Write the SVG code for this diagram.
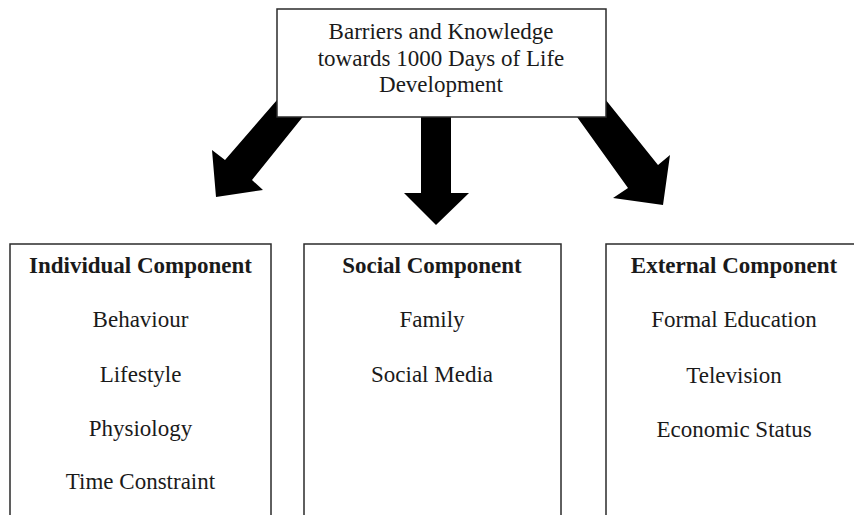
<svg xmlns="http://www.w3.org/2000/svg" width="854" height="515" viewBox="0 0 854 515">
  <style>
    .box { fill: #ffffff; stroke: #2b2b2b; stroke-width: 1.5; }
    .arrow { fill: #000000; stroke: none; }
    text { font-family: "Liberation Serif", "Times New Roman", serif; font-size: 23px; fill: #1a1a1a; text-anchor: middle; }
    .head { font-weight: bold; }
  </style>

  <!-- block arrows, drawn first so the top box hides their tails -->
  <g id="connectors">
    <polygon class="arrow" points="290,85 225,160 212,150 216,197 263,190 252,180 326,88"/>
    <polygon class="arrow" points="421,100 451,100 451,193 469,193 436,225 404,193 421,193"/>
    <polygon class="arrow" points="562,96 628,188 613,198 663,205 670,155 658,165 589,79"/>
  </g>

  <g id="topic">
    <rect class="box" x="277" y="9" width="329" height="108"/>
    <text x="441" y="39">Barriers and Knowledge</text>
    <text x="441" y="66">towards 1000 Days of Life</text>
    <text x="441" y="92">Development</text>
  </g>

  <g id="individual">
    <rect class="box" x="10" y="244" width="261" height="290"/>
    <text class="head" x="140.5" y="273">Individual Component</text>
    <text x="140.5" y="327">Behaviour</text>
    <text x="140.5" y="382">Lifestyle</text>
    <text x="140.5" y="436">Physiology</text>
    <text x="140.5" y="489">Time Constraint</text>
  </g>

  <g id="social">
    <rect class="box" x="304" y="244" width="257" height="290"/>
    <text class="head" x="432" y="273">Social Component</text>
    <text x="432" y="327">Family</text>
    <text x="432" y="382">Social Media</text>
  </g>

  <g id="external">
    <rect class="box" x="606" y="244" width="270" height="290"/>
    <text class="head" x="734" y="273">External Component</text>
    <text x="734" y="327">Formal Education</text>
    <text x="734" y="383">Television</text>
    <text x="734" y="437">Economic Status</text>
  </g>
</svg>
